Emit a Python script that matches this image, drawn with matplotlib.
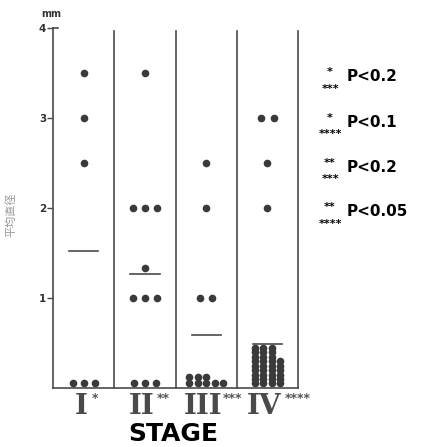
import numpy as np
import matplotlib.pyplot as plt
import matplotlib.transforms as mtransforms

# values (mm)
stage_names = ['I', 'II', 'III', 'IV']
stage_stars = ['*', '**', '***', '****']
stage1 = [3.5, 3.0, 2.5, 0.05, 0.05, 0.05]
stage2 = [3.5, 2.0, 2.0, 2.0, 1.33, 1.0, 1.0, 1.0, 0.05, 0.05, 0.05]
stage3 = [2.5, 2.0, 1.0, 1.0, 0.12, 0.12, 0.12, 0.05, 0.05, 0.05, 0.05, 0.05]
stage4 = ([3.0, 3.0, 2.5, 2.0]
          + [0.05] * 4 + [0.1] * 4 + [0.15] * 4 + [0.2] * 4 + [0.25] * 4 + [0.3] * 4
          + [0.35] * 3 + [0.4] * 3 + [0.45] * 3)
stages = [stage1, stage2, stage3, stage4]

legend_top = ['*', '*', '**', '**']
legend_bottom = ['***', '****', '***', '****']
legend_p = ['P<0.2', 'P<0.1', 'P<0.2', 'P<0.05']

dot_col = '#3a3a3a'
line_col = '#4a4a4a'

fig = plt.figure(figsize=(4.32, 4.47), dpi=100)
ax = fig.add_axes([0.123, 0.132, 0.567, 0.805])

for i, vals in enumerate(stages):
    center = i + 0.5
    vals = np.array(vals)
    uniq, counts = np.unique(vals, return_counts=True)
    nmax = counts[uniq < 0.5].max()
    for v, n in zip(uniq, counts):
        if v < 0.5:
            sp = 0.14 if nmax > 3 else 0.18
            xs = center + (np.arange(n) - (nmax - 1) / 2) * sp
        else:
            sp = 0.2
            xs = center + (np.arange(n) - (n - 1) / 2) * sp
        ax.plot(xs, [v] * n, 'o', color=dot_col, ms=5.5, mec='none', clip_on=False)
    m = vals.mean()
    ax.plot([center - 0.24, center + 0.24], [m, m], color=line_col, lw=1.2)

# column separators
for xs in [1, 2, 3, 4]:
    ax.plot([xs, xs], [0, 3.97], color=line_col, lw=1.2, clip_on=False)
ax.plot([0, 0.08], [4, 4], color=line_col, lw=1.2, clip_on=False)

ax.set_xlim(0, 4)
ax.set_ylim(0, 4)
ax.spines['top'].set_visible(False)
ax.spines['right'].set_visible(False)
ax.spines['left'].set_color(line_col)
ax.spines['bottom'].set_color(line_col)
ax.spines['left'].set_linewidth(1.2)
ax.spines['bottom'].set_linewidth(1.2)
ax.set_xticks([])
ax.set_yticks([1, 2, 3, 4])
ax.set_yticklabels(['1', '2', '3', '4'], fontsize=7.5, fontweight='bold', color='#333')
ax.tick_params(axis='y', length=4, width=1, color=line_col, pad=1)

ax.text(-0.05, 1.025, 'mm', transform=ax.transAxes, fontsize=7, fontweight='bold',
        color='#333', ha='left', va='bottom')
fig.text(0.025, 0.52, '平均直径', rotation=90, fontsize=8, color='#999',
         family=['Noto Sans CJK JP', 'DejaVu Sans'], ha='center', va='center')

# stage labels
trans = mtransforms.blended_transform_factory(ax.transData, ax.transAxes)
star_off = [8, 11, 14, 15]
for i, (name, st) in enumerate(zip(stage_names, stage_stars)):
    ax.text(i + 0.45, -0.015, name, transform=trans, ha='center', va='top',
            fontsize=20, fontweight='bold', family='DejaVu Serif', color='#4a4a4a')
    ax.annotate(st, xy=(i + 0.45, -0.015), xycoords=trans,
                xytext=(star_off[i], 1), textcoords='offset points',
                ha='left', va='top', fontsize=9, fontweight='bold', color='#555')

fig.text(0.40, 0.029, 'STAGE', ha='center', va='center', fontsize=18,
         fontweight='bold', color='black')

# significance legend
ys = [0.828, 0.727, 0.626, 0.526]
for y, t, b, p in zip(ys, legend_top, legend_bottom, legend_p):
    fig.text(0.764, y + 0.010, t, ha='center', va='center', fontsize=8, fontweight='bold')
    fig.text(0.764, y - 0.026, b, ha='center', va='center', fontsize=8, fontweight='bold')
    fig.text(0.803, y, p, ha='left', va='center', fontsize=11, fontweight='bold')

plt.savefig('out.png', dpi=100)
